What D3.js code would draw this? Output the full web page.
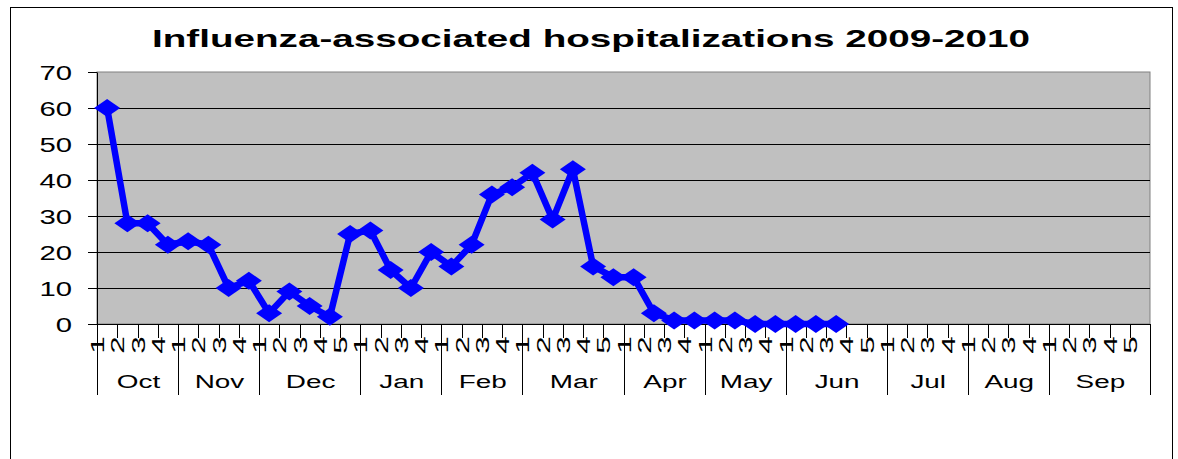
<!DOCTYPE html>
<html>
<head>
<meta charset="utf-8">
<script src="https://cdn.jsdelivr.net/npm/d3@7"></script>
<style>
  body { margin: 0; background: #fff; }
  text { font-family: "Liberation Sans", Arial, sans-serif; fill: #000; }
</style>
</head>
<body>
<svg id="chart" width="1178" height="459"></svg>
<script>
// ---- data ----
const months = ["Oct", "Nov", "Dec", "Jan", "Feb", "Mar", "Apr", "May", "Jun", "Jul", "Aug", "Sep"];
const weeksPerMonth = [4, 4, 5, 4, 4, 5, 4, 4, 5, 4, 4, 5];
const hospitalizations = [60, 28, 28, 22, 23, 22, 10, 12, 3, 9, 5, 2, 25, 26, 15, 10, 20, 16, 22, 36, 38, 42, 29, 43, 16, 13, 13, 3, 1, 1, 1, 1, 0, 0, 0, 0, 0];
const yTicks = [0, 10, 20, 30, 40, 50, 60, 70];
const title = "Influenza-associated hospitalizations 2009-2010";

// build week categories
const weeks = [];
months.forEach((m, i) => {
    for (let w = 1; w <= weeksPerMonth[i]; w++) weeks.push({ key: m + w, month: m, week: w });
});
const points = hospitalizations.map((v, i) => ({ key: weeks[i].key, value: v }));

const svg = d3.select("#chart");
const plot = { left: 97, right: 1150, top: 72, bottom: 324 };

const x = d3.scaleBand().domain(weeks.map(d => d.key)).range([plot.left, plot.right]).padding(0);
const y = d3.scaleLinear().domain([0, 70]).range([plot.bottom, plot.top]);

// outer frame
svg.append("rect")
    .attr("x", 10.5).attr("y", 7.5)
    .attr("width", 1162).attr("height", 470)
    .attr("fill", "none").attr("stroke", "#000").attr("stroke-width", 1);

// title
svg.append("text")
    .attr("x", 152).attr("y", 46.5)
    .attr("textLength", 878).attr("lengthAdjust", "spacingAndGlyphs")
    .style("font-size", "24.5px").style("font-weight", "bold")
    .text(title);

// plot area
svg.append("rect")
    .attr("x", plot.left).attr("y", plot.top)
    .attr("width", plot.right - plot.left).attr("height", plot.bottom - plot.top)
    .attr("fill", "#c0c0c0").attr("stroke", "#808080").attr("stroke-width", 1);

// gridlines
svg.append("g").selectAll("line").data(yTicks.filter(t => t > 0 && t < 70))
    .join("line")
    .attr("x1", plot.left).attr("x2", plot.right)
    .attr("y1", d => Math.round(y(d)) + 0.5).attr("y2", d => Math.round(y(d)) + 0.5)
    .attr("stroke", "#000").attr("stroke-width", 1);

// y axis
const yAxis = svg.append("g")
    .attr("transform", `translate(${plot.left},0)`)
    .call(d3.axisLeft(y).tickValues(yTicks).tickSize(9).tickSizeOuter(0));
yAxis.select(".domain").attr("stroke", "#000");
yAxis.selectAll(".tick line").attr("stroke", "#000");
yAxis.selectAll(".tick text")
    .attr("x", 0).attr("dy", "0.36em")
    .attr("transform", "translate(-25,0) scale(1.5,1)")
    .attr("text-anchor", "end")
    .style("font-size", "19.5px")
    .style("font-family", "'Liberation Sans', Arial, sans-serif");

// x axis baseline
svg.append("line")
    .attr("x1", plot.left).attr("x2", plot.right)
    .attr("y1", plot.bottom + 0.5).attr("y2", plot.bottom + 0.5)
    .attr("stroke", "#000");

// week ticks
const xa = svg.append("g");
xa.selectAll("line.week").data(weeks.slice(1))
    .join("line").attr("class", "week")
    .attr("x1", d => Math.round(x(d.key)) + 0.5).attr("x2", d => Math.round(x(d.key)) + 0.5)
    .attr("y1", plot.bottom).attr("y2", 338)
    .attr("stroke", "#000");

// month dividers
const monthStarts = weeks.filter(d => d.week === 1).map(d => x(d.key)).concat([plot.right]);
xa.selectAll("line.month").data(monthStarts)
    .join("line").attr("class", "month")
    .attr("x1", d => Math.round(d) + 0.5).attr("x2", d => Math.round(d) + 0.5)
    .attr("y1", plot.bottom).attr("y2", 395)
    .attr("stroke", "#000");

// week labels (rotated)
xa.selectAll("text.week").data(weeks)
    .join("text").attr("class", "week")
    .attr("text-anchor", "middle")
    .attr("transform", d => `translate(${x(d.key) + x.bandwidth() / 2 - 3},345) rotate(-90) scale(1.8,1)`)
    .style("font-size", "17.5px")
    .text(d => d.week);

// month labels
xa.selectAll("text.month").data(months)
    .join("text").attr("class", "month")
    .attr("text-anchor", "middle")
    .attr("transform", (m, i) => {
        const a = monthStarts[i], b = monthStarts[i + 1];
        return `translate(${(a + b) / 2 + 1},388) scale(1.5,1)`;
    })
    .style("font-size", "18.6px")
    .text(m => m);

// series line
const cx = d => x(d.key) + x.bandwidth() / 2;
svg.append("path").datum(points)
    .attr("fill", "none").attr("stroke", "#0000ff")
    .attr("stroke-width", 6.5).attr("stroke-linejoin", "round")
    .attr("d", d3.line().x(cx).y(d => y(d.value)));

// diamond markers
svg.append("g").selectAll("path").data(points)
    .join("path")
    .attr("transform", d => `translate(${cx(d)},${y(d.value)})`)
    .attr("d", "M0,-9L13,0L0,9L-13,0Z")
    .attr("fill", "#0000ff");
</script>
</body>
</html>
